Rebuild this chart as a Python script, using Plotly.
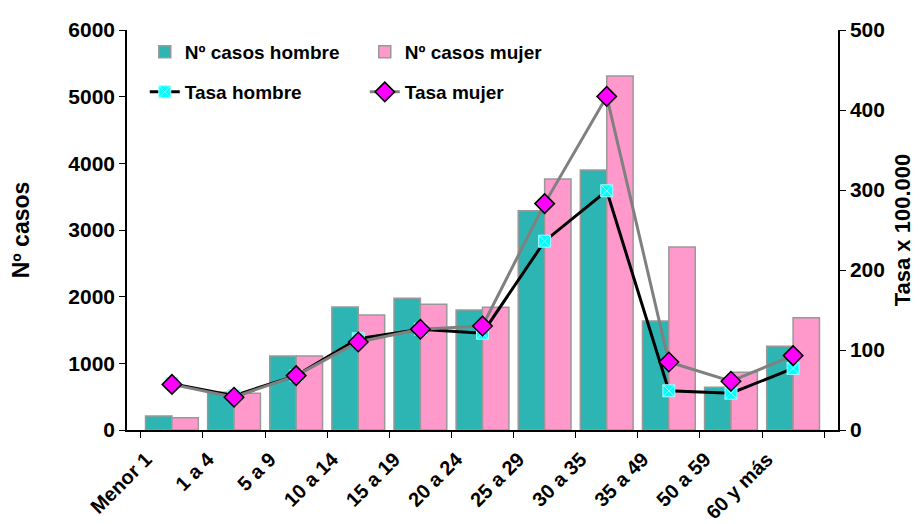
import plotly.graph_objects as go

categorias = ["Menor 1", "1 a 4", "5 a 9", "10 a 14", "15 a 19", "20 a 24",
              "25 a 29", "30 a 35", "35 a 49", "50 a 59", "60 y más"]
casos_hombre = [210, 565, 1110, 1845, 1975, 1800, 3290, 3900, 1635, 640, 1255]
casos_mujer = [185, 550, 1110, 1725, 1885, 1840, 3765, 5310, 2745, 865, 1685]
tasa_hombre = [58, 43, 68, 114, 126, 121, 236, 299, 49, 46, 77]
tasa_mujer = [57, 41, 68, 110, 126, 130, 283, 417, 85, 61, 93]

FONT = "Arial, Liberation Sans, sans-serif"

fig = go.Figure()
fig.add_trace(go.Bar(x=categorias, y=casos_hombre, name="Nº casos hombre",
                     marker=dict(color="#2CB5B3", line=dict(color="#999999", width=1.5)),
                     legend="legend"))
fig.add_trace(go.Bar(x=categorias, y=casos_mujer, name="Nº casos mujer",
                     marker=dict(color="#FF99CC", line=dict(color="#999999", width=1.5)),
                     legend="legend"))
fig.add_trace(go.Scatter(x=categorias, y=tasa_hombre, name="Tasa hombre", yaxis="y2",
                         mode="lines+markers",
                         line=dict(color="black", width=3),
                         marker=dict(symbol="square-x", size=12, color="#00FFFF",
                                     line=dict(color="#A0FFFF", width=1)),
                         legend="legend2"))
fig.add_trace(go.Scatter(x=categorias, y=tasa_mujer, name="Tasa mujer", yaxis="y2",
                         mode="lines+markers",
                         line=dict(color="#808080", width=3),
                         marker=dict(symbol="diamond", size=15, color="#FF00FF",
                                     line=dict(color="black", width=1.5)),
                         legend="legend2"))

legend_common = dict(orientation="h", xanchor="left", yanchor="middle",
                     bgcolor="rgba(0,0,0,0)", entrywidth=175, entrywidthmode="pixels",
                     font=dict(family=FONT, size=19, color="black", weight="bold"),
                     traceorder="normal")

fig.update_layout(
    width=914, height=516,
    margin=dict(l=119, r=84, t=22, b=94, autoexpand=False),
    paper_bgcolor="white", plot_bgcolor="white",
    barmode="group", bargap=0.15, bargroupgap=0.0,
    font=dict(family=FONT, size=19, color="black"),
    legend=dict(x=0.025, y=0.945, **legend_common),
    legend2=dict(x=0.025, y=0.845, **legend_common),
    xaxis=dict(showline=True, linecolor="black", linewidth=1.5, automargin=False,
               ticks="outside", tickson="boundaries", ticklen=6, tickcolor="black",
               tickangle=-45, tickfont=dict(family=FONT, size=20, color="black", weight="bold"),
               ticklabelstandoff=8, ticklabelshift=-26,
               showgrid=False),
    yaxis=dict(range=[0, 6000], dtick=1000, showline=True, linecolor="black", linewidth=1.5,
               automargin=False,
               ticks="outside", ticklen=6, tickcolor="black", showgrid=False, zeroline=False,
               tickfont=dict(family=FONT, size=21, color="black", weight="bold"),
               title=dict(text="Nº casos", font=dict(family=FONT, size=23, weight="bold"),
                          standoff=34)),
    yaxis2=dict(range=[0, 500], dtick=100, overlaying="y", side="right",
                showline=True, linecolor="black", linewidth=1.5, automargin=False,
                ticks="outside", ticklen=6, tickcolor="black", showgrid=False, zeroline=False,
                tickfont=dict(family=FONT, size=21, color="black", weight="bold"),
                title=dict(text="Tasa x 100.000", font=dict(family=FONT, size=22, weight="bold"),
                           standoff=11)),
)

fig.write_html("out.html")
